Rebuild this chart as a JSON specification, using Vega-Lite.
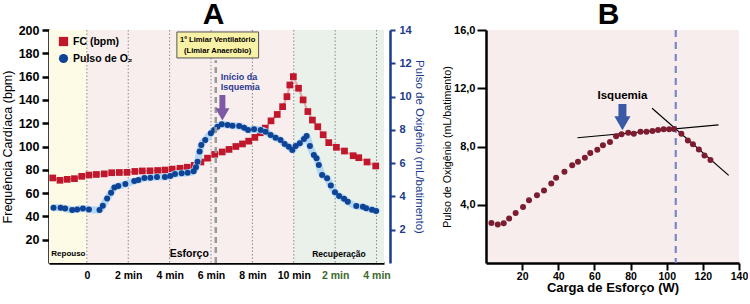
{
  "$schema": "https://vega.github.io/schema/vega-lite/v6.json",
  "padding": {"left": 1, "top": 0, "right": 0, "bottom": 0},
  "spacing": 16,
  "config": {"view": {"stroke": null}, "font": "Liberation Sans", "axis": {"grid": false, "labelOverlap": false}},
  "datasets": {
    "fc": [
      {"t": -1.65, "fc": 73}, {"t": -1.3, "fc": 71}, {"t": -0.95, "fc": 71.8}, {"t": -0.6, "fc": 72.4},
      {"t": -0.25, "fc": 74.4}, {"t": 0.1, "fc": 75.5}, {"t": 0.46, "fc": 76}, {"t": 0.84, "fc": 76.5},
      {"t": 1.2, "fc": 77.5}, {"t": 1.57, "fc": 77.7}, {"t": 1.94, "fc": 77.8}, {"t": 2.32, "fc": 78.6},
      {"t": 2.68, "fc": 79}, {"t": 3.05, "fc": 79.1}, {"t": 3.42, "fc": 79.4}, {"t": 3.77, "fc": 79.8},
      {"t": 4.12, "fc": 80.6}, {"t": 4.5, "fc": 81.3}, {"t": 4.85, "fc": 82.2}, {"t": 5.19, "fc": 83.8},
      {"t": 5.51, "fc": 86.7}, {"t": 5.83, "fc": 90}, {"t": 6.18, "fc": 93.2}, {"t": 6.54, "fc": 95.3},
      {"t": 6.87, "fc": 97.5}, {"t": 7.2, "fc": 100}, {"t": 7.52, "fc": 102.2}, {"t": 7.82, "fc": 104.6},
      {"t": 8.12, "fc": 107.8}, {"t": 8.38, "fc": 111.8}, {"t": 8.62, "fc": 115.8}, {"t": 8.9, "fc": 122},
      {"t": 9.2, "fc": 127.5}, {"t": 9.46, "fc": 134.2}, {"t": 9.67, "fc": 142.8}, {"t": 9.81, "fc": 152.8},
      {"t": 9.98, "fc": 160}, {"t": 10.23, "fc": 150}, {"t": 10.45, "fc": 140}, {"t": 10.68, "fc": 130},
      {"t": 10.9, "fc": 122.7}, {"t": 11.16, "fc": 117}, {"t": 11.42, "fc": 110.1}, {"t": 11.69, "fc": 103.3},
      {"t": 12.06, "fc": 99.3}, {"t": 12.45, "fc": 96.1}, {"t": 12.87, "fc": 92.1}, {"t": 13.14, "fc": 90.4},
      {"t": 13.54, "fc": 86.7}, {"t": 13.96, "fc": 83.3}
    ],
    "o2": [
      {"t": -1.61, "o2": 3.32}, {"t": -1.27, "o2": 3.32}, {"t": -1.05, "o2": 3.28}, {"t": -0.71, "o2": 3.18},
      {"t": -0.47, "o2": 3.22}, {"t": -0.19, "o2": 3.28}, {"t": 0.1, "o2": 3.22}, {"t": 0.61, "o2": 3.18},
      {"t": 0.77, "o2": 3.44}, {"t": 0.98, "o2": 3.88}, {"t": 1.17, "o2": 4.22}, {"t": 1.33, "o2": 4.54},
      {"t": 1.52, "o2": 4.62}, {"t": 1.86, "o2": 4.74}, {"t": 2.29, "o2": 4.92}, {"t": 2.49, "o2": 4.98},
      {"t": 2.78, "o2": 5.1}, {"t": 3.07, "o2": 5.12}, {"t": 3.39, "o2": 5.17}, {"t": 3.77, "o2": 5.17},
      {"t": 4.03, "o2": 5.23}, {"t": 4.26, "o2": 5.35}, {"t": 4.58, "o2": 5.39}, {"t": 4.87, "o2": 5.42},
      {"t": 5.16, "o2": 5.51}, {"t": 5.27, "o2": 5.75}, {"t": 5.35, "o2": 6.08}, {"t": 5.45, "o2": 6.7},
      {"t": 5.53, "o2": 7.09}, {"t": 5.72, "o2": 7.39}, {"t": 5.99, "o2": 7.79}, {"t": 6.15, "o2": 7.99},
      {"t": 6.31, "o2": 8.19}, {"t": 6.52, "o2": 8.33}, {"t": 6.8, "o2": 8.29}, {"t": 7.04, "o2": 8.25},
      {"t": 7.36, "o2": 8.23}, {"t": 7.6, "o2": 8.13}, {"t": 7.79, "o2": 7.99}, {"t": 8.08, "o2": 8.03},
      {"t": 8.4, "o2": 7.99}, {"t": 8.64, "o2": 7.89}, {"t": 8.88, "o2": 7.69}, {"t": 9.12, "o2": 7.53},
      {"t": 9.36, "o2": 7.39}, {"t": 9.56, "o2": 7.15}, {"t": 9.76, "o2": 6.99}, {"t": 9.93, "o2": 6.79},
      {"t": 10.09, "o2": 7.03}, {"t": 10.29, "o2": 7.19}, {"t": 10.49, "o2": 7.45}, {"t": 10.62, "o2": 7.63},
      {"t": 10.78, "o2": 7.03}, {"t": 10.97, "o2": 6.49}, {"t": 11.1, "o2": 6.29}, {"t": 11.21, "o2": 5.89},
      {"t": 11.37, "o2": 5.29}, {"t": 11.61, "o2": 5.09}, {"t": 11.79, "o2": 4.66}, {"t": 11.99, "o2": 4.25},
      {"t": 12.19, "o2": 4.02}, {"t": 12.43, "o2": 3.86}, {"t": 12.61, "o2": 3.68}, {"t": 13.02, "o2": 3.42},
      {"t": 13.34, "o2": 3.38}, {"t": 13.5, "o2": 3.29}, {"t": 13.78, "o2": 3.2}, {"t": 13.98, "o2": 3.13}
    ],
    "fases": [
      {"fase": "Repouso", "ini": -1.83, "fim": 0},
      {"fase": "Esforço", "ini": 0, "fim": 10},
      {"fase": "Recuperação", "ini": 10, "fim": 14.36}
    ],
    "grade": [{"t": 0}, {"t": 2}, {"t": 4}, {"t": 6}, {"t": 8}, {"t": 10}, {"t": 12}, {"t": 14}],
    "esforco": [
      {"w": 3.0, "pulso": 2.75}, {"w": 6.5, "pulso": 2.65}, {"w": 9.8, "pulso": 2.73}, {"w": 12.8, "pulso": 3.05},
      {"w": 16.4, "pulso": 3.44}, {"w": 20.5, "pulso": 3.85}, {"w": 23.8, "pulso": 4.31}, {"w": 28.2, "pulso": 4.66},
      {"w": 32.1, "pulso": 4.98}, {"w": 36.1, "pulso": 5.46}, {"w": 38.8, "pulso": 5.85}, {"w": 43.4, "pulso": 6.26},
      {"w": 47.7, "pulso": 6.72}, {"w": 50.9, "pulso": 6.95}, {"w": 54.7, "pulso": 7.23}, {"w": 57.7, "pulso": 7.55},
      {"w": 61.6, "pulso": 7.78}, {"w": 64.7, "pulso": 8.08}, {"w": 68.6, "pulso": 8.31}, {"w": 72.0, "pulso": 8.7},
      {"w": 75.0, "pulso": 8.84}, {"w": 78.7, "pulso": 8.95}, {"w": 81.8, "pulso": 8.88}, {"w": 85.5, "pulso": 9.02},
      {"w": 88.8, "pulso": 9.02}, {"w": 92.1, "pulso": 9.06}, {"w": 95.2, "pulso": 9.13}, {"w": 98.3, "pulso": 9.18},
      {"w": 101.3, "pulso": 9.18}, {"w": 104.0, "pulso": 9.2}, {"w": 108.1, "pulso": 8.88}, {"w": 111.7, "pulso": 8.42},
      {"w": 114.5, "pulso": 8.15}, {"w": 117.8, "pulso": 7.8}, {"w": 120.9, "pulso": 7.39}, {"w": 124.2, "pulso": 7.07}
    ],
    "tangentes": [
      {"linha": "platô", "w": 50.6, "pulso": 8.6}, {"linha": "platô", "w": 128.7, "pulso": 9.48},
      {"linha": "queda", "w": 91.9, "pulso": 10.63}, {"linha": "queda", "w": 134.3, "pulso": 6.02}
    ]
  },
  "hconcat": [
    {
      "width": 335,
      "height": 233,
      "title": {"text": "A", "fontSize": 30, "font": "Liberation Sans", "fontWeight": "bold", "frame": "group", "anchor": "middle", "offset": -6, "dx": -3, "color": "black"},
      "resolve": {"scale": {"y": "independent"}},
      "layer": [
        {
          "layer": [
            {
              "data": {"name": "fases"},
              "mark": {"type": "rect"},
              "encoding": {
                "x": {"field": "ini", "type": "quantitative", "title": null,
                  "scale": {"domain": [-1.83, 14.36], "nice": false, "zero": false},
                  "axis": {"values": [0, 2, 4, 6, 8, 10, 12, 14], "tickCount": 20, "ticks": false, "domainColor": "black", "domainWidth": 2.5,
                    "labelExpr": "datum.value == 0 ? '0' : (datum.value <= 10 ? datum.value + ' min' : (datum.value - 10) + ' min')",
                    "labelFont": "Liberation Sans", "labelFontWeight": "bold", "labelFontSize": 10.5,
                    "labelColor": {"condition": {"test": "datum.value > 10", "value": "#3b6a2c"}, "value": "black"},
                    "labelPadding": 7, "labelFlush": false, "labelOverlap": false}},
                "x2": {"field": "fim"},
                "fill": {"field": "fase", "type": "nominal", "legend": null,
                  "scale": {"domain": ["Repouso", "Esforço", "Recuperação"], "range": ["#fdfbe6", "#f8eeee", "#e9f1ea"]}}
              }
            },
            {
              "data": {"name": "grade"},
              "mark": {"type": "rule", "color": "#8a8a8a", "strokeDash": [1.5, 2], "strokeWidth": 1},
              "encoding": {"x": {"field": "t", "type": "quantitative", "title": null}}
            },
            {
              "data": {"name": "fc"},
              "mark": {"type": "line", "color": "#e9a2a8", "strokeWidth": 2},
              "encoding": {
                "x": {"field": "t", "type": "quantitative", "title": null},
                "y": {"field": "fc", "type": "quantitative", "title": "Frequência Cardíaca (bpm)"}
              }
            },
            {
              "data": {"name": "fc"},
              "mark": {"type": "point", "filled": true, "opacity": 1, "size": 45},
              "encoding": {
                "x": {"field": "t", "type": "quantitative", "title": null},
                "y": {"field": "fc", "type": "quantitative", "title": "Frequência Cardíaca (bpm)",
                  "scale": {"domain": [0, 200], "nice": false},
                  "axis": {"values": [20, 40, 60, 80, 100, 120, 140, 160, 180, 200], "tickCount": 20, "format": "d", "domainColor": "black", "domainWidth": 2.5,
                    "tickColor": "black", "tickWidth": 2.5, "tickSize": 7, "labelPadding": 3, "labelOverlap": false,
                    "labelFont": "Liberation Sans", "labelFontWeight": "bold", "labelFontSize": 12.5, "labelColor": "black",
                    "titleFont": "Liberation Sans", "titleFontSize": 12.5, "titleFontWeight": "normal",
                    "titleColor": "black", "titlePadding": 3.5}},
                "color": {"datum": "FC (bpm)", "type": "nominal",
                  "scale": {"domain": ["FC (bpm)", "Pulso de O₂"], "range": ["#c0172c", "#0f4396"]},
                  "legend": {"orient": "none", "legendX": 9, "legendY": 6, "title": null,
                    "labelFont": "Liberation Sans", "labelFontWeight": "bold", "labelFontSize": 10.5,
                    "labelColor": "black", "symbolSize": 85, "rowPadding": 6, "symbolOpacity": 1}},
                "shape": {"datum": "FC (bpm)", "type": "nominal",
                  "scale": {"domain": ["FC (bpm)", "Pulso de O₂"], "range": ["square", "circle"]},
                  "legend": {"orient": "none", "legendX": 9, "legendY": 6, "title": null,
                    "labelFont": "Liberation Sans", "labelFontWeight": "bold", "labelFontSize": 10.5,
                    "labelColor": "black", "symbolSize": 85, "rowPadding": 6, "symbolOpacity": 1}}
              }
            }
          ]
        },
        {
          "layer": [
            {
              "data": {"name": "o2"},
              "mark": {"type": "line", "color": "#b3d7f2", "strokeWidth": 7, "interpolate": "monotone", "strokeCap": "round"},
              "encoding": {
                "x": {"field": "t", "type": "quantitative", "title": null},
                "y": {"field": "o2", "type": "quantitative", "title": "Pulso de Oxigênio (mL/batimento)"}
              }
            },
            {
              "data": {"name": "o2"},
              "mark": {"type": "point", "filled": true, "opacity": 1, "size": 36},
              "encoding": {
                "x": {"field": "t", "type": "quantitative", "title": null},
                "y": {"field": "o2", "type": "quantitative", "title": "Pulso de Oxigênio (mL/batimento)",
                  "scale": {"domain": [0, 14], "nice": false},
                  "axis": {"orient": "right", "offset": 6, "values": [2, 4, 6, 8, 10, 12, 14], "tickCount": 20, "format": "d", "domainColor": "#1b3b8b", "domainWidth": 2.5,
                    "tickColor": "#1b3b8b", "tickWidth": 2, "tickSize": 5, "labelPadding": 4, "labelOverlap": false,
                    "labelFont": "Liberation Sans", "labelFontWeight": "bold", "labelFontSize": 11, "labelColor": "#1b3b8b",
                    "titleFont": "Liberation Sans", "titleFontSize": 11.5, "titleFontWeight": "normal",
                    "titleColor": "#1b3b8b", "titlePadding": 2}},
                "color": {"datum": "Pulso de O₂", "type": "nominal"},
                "shape": {"datum": "Pulso de O₂", "type": "nominal"}
              }
            }
          ]
        },
        {
          "layer": [
            {
              "data": {"values": [{"t": 6.23, "fc": 0, "fc2": 174}]},
              "mark": {"type": "rule", "color": "#9a9a9a", "strokeDash": [6, 4], "strokeWidth": 2.5},
              "encoding": {
                "x": {"field": "t", "type": "quantitative", "title": null},
                "y": {"field": "fc", "type": "quantitative", "axis": null, "scale": {"domain": [0, 200], "nice": false}},
                "y2": {"field": "fc2"}
              }
            },
            {
              "data": {"values": [{"t0": 4.35, "t1": 8.3, "fc": 176, "fc2": 198.3}]},
              "mark": {"type": "rect", "fill": "#f9f2a6", "stroke": "#555555", "strokeWidth": 1},
              "encoding": {
                "x": {"field": "t0", "type": "quantitative", "title": null},
                "x2": {"field": "t1"},
                "y": {"field": "fc", "type": "quantitative", "axis": null},
                "y2": {"field": "fc2"}
              }
            },
            {
              "data": {"values": [{"texto": "1º Limiar Ventilatório", "t": 6.32, "fc": 191.4}, {"texto": "(Limiar Anaeróbio)", "t": 6.32, "fc": 182.2}]},
              "mark": {"type": "text", "font": "Liberation Sans", "fontWeight": "bold", "fontSize": 7.6, "color": "black", "baseline": "middle"},
              "encoding": {
                "x": {"field": "t", "type": "quantitative", "title": null},
                "y": {"field": "fc", "type": "quantitative", "axis": null},
                "text": {"field": "texto"}
              }
            },
            {
              "data": {"values": [{"texto": "Início da", "t": 6.47, "fc": 159.5}, {"texto": "Isquemia", "t": 6.47, "fc": 150.9}]},
              "mark": {"type": "text", "font": "Liberation Sans", "fontWeight": "bold", "fontSize": 9, "color": "#2b3990", "align": "left", "baseline": "middle"},
              "encoding": {
                "x": {"field": "t", "type": "quantitative", "title": null},
                "y": {"field": "fc", "type": "quantitative", "axis": null},
                "text": {"field": "texto"}
              }
            },
            {
              "data": {"values": [{"t": 6.55, "fc": 144.2, "fc2": 130.5}]},
              "mark": {"type": "rule", "color": "#7e5aa6", "strokeWidth": 6},
              "encoding": {
                "x": {"field": "t", "type": "quantitative", "title": null},
                "y": {"field": "fc", "type": "quantitative", "axis": null},
                "y2": {"field": "fc2"}
              }
            },
            {
              "data": {"values": [{"t": 6.55, "fc": 127.5}]},
              "mark": {"type": "point", "shape": "triangle-down", "filled": true, "fill": "#7e5aa6", "stroke": null, "opacity": 1, "size": 200},
              "encoding": {
                "x": {"field": "t", "type": "quantitative", "title": null},
                "y": {"field": "fc", "type": "quantitative", "axis": null}
              }
            },
            {
              "data": {"values": [{"texto": "Repouso", "t": -1.72, "fc": 7.7}]},
              "mark": {"type": "text", "font": "Liberation Sans", "fontWeight": "bold", "fontSize": 8, "color": "black", "align": "left", "baseline": "middle"},
              "encoding": {
                "x": {"field": "t", "type": "quantitative", "title": null},
                "y": {"field": "fc", "type": "quantitative", "axis": null},
                "text": {"field": "texto"}
              }
            },
            {
              "data": {"values": [{"texto": "Esforço", "t": 4.95, "fc": 7.7}]},
              "mark": {"type": "text", "font": "Liberation Sans", "fontWeight": "bold", "fontSize": 10.5, "color": "black", "align": "center", "baseline": "middle"},
              "encoding": {
                "x": {"field": "t", "type": "quantitative", "title": null},
                "y": {"field": "fc", "type": "quantitative", "axis": null},
                "text": {"field": "texto"}
              }
            },
            {
              "data": {"values": [{"texto": "Recuperação", "t": 12.18, "fc": 7.7}]},
              "mark": {"type": "text", "font": "Liberation Sans", "fontWeight": "bold", "fontSize": 8.5, "color": "black", "align": "center", "baseline": "middle"},
              "encoding": {
                "x": {"field": "t", "type": "quantitative", "title": null},
                "y": {"field": "fc", "type": "quantitative", "axis": null},
                "text": {"field": "texto"}
              }
            }
          ]
        }
      ]
    },
    {
      "width": 253,
      "height": 233,
      "title": {"text": "B", "fontSize": 30, "font": "Liberation Sans", "fontWeight": "bold", "frame": "group", "anchor": "middle", "offset": -6, "dx": -4, "color": "black"},
      "view": {"fill": "#f8eded", "stroke": null},
      "layer": [
        {
          "data": {"values": [{"w": 105}]},
          "mark": {"type": "rule", "color": "#7c86c6", "strokeDash": [7, 5], "strokeWidth": 2.2},
          "encoding": {"x": {"field": "w", "type": "quantitative", "title": "Carga de Esforço (W)"}}
        },
        {
          "data": {"name": "tangentes"},
          "mark": {"type": "line", "color": "black", "strokeWidth": 1.2},
          "encoding": {
            "x": {"field": "w", "type": "quantitative", "title": "Carga de Esforço (W)"},
            "y": {"field": "pulso", "type": "quantitative", "title": "Pulso de Oxigênio (mL/batimento)"},
            "detail": {"field": "linha"}
          }
        },
        {
          "data": {"name": "esforco"},
          "mark": {"type": "point", "filled": true, "opacity": 1, "size": 36, "color": "#7b1c30"},
          "encoding": {
            "x": {"field": "w", "type": "quantitative", "title": "Carga de Esforço (W)",
              "scale": {"domain": [0, 140], "nice": false},
              "axis": {"values": [20, 40, 60, 80, 100, 120, 140], "tickCount": 20, "format": "d", "domainColor": "black", "domainWidth": 2.5,
                "tickColor": "black", "tickWidth": 2, "tickSize": 7, "labelPadding": 1, "labelOverlap": false,
                "labelFont": "Liberation Sans", "labelFontWeight": "bold", "labelFontSize": 10.5, "labelColor": "black", "labelFlush": false,
                "titleFont": "Liberation Sans", "titleFontWeight": "bold", "titleFontSize": 13, "titleColor": "black", "titlePadding": 0}},
            "y": {"field": "pulso", "type": "quantitative", "title": "Pulso de Oxigênio (mL/batimento)",
              "scale": {"domain": [0, 16], "nice": false},
              "axis": {"values": [4, 8, 12, 16], "tickCount": 20, "domainColor": "black", "domainWidth": 2.5, "labelOverlap": false,
                "labelExpr": "replace(format(datum.value, '.1f'), '.', ',')",
                "tickColor": "black", "tickWidth": 2, "tickSize": 9, "labelPadding": 2,
                "labelFont": "Liberation Sans", "labelFontWeight": "bold", "labelFontSize": 11, "labelColor": "black",
                "titleFont": "Liberation Sans", "titleFontWeight": "normal", "titleFontSize": 10.7, "titleColor": "black", "titlePadding": 1}}
          }
        },
        {
          "data": {"values": [{"texto": "Isquemia", "w": 75.5, "pulso": 11.47}]},
          "mark": {"type": "text", "font": "Liberation Sans", "fontWeight": "bold", "fontSize": 11.5, "color": "black", "baseline": "middle"},
          "encoding": {
            "x": {"field": "w", "type": "quantitative", "title": "Carga de Esforço (W)"},
            "y": {"field": "pulso", "type": "quantitative", "title": "Pulso de Oxigênio (mL/batimento)"},
            "text": {"field": "texto"}
          }
        },
        {
          "data": {"values": [{"w": 75.5, "pulso": 10.92, "pulso2": 9.9}]},
          "mark": {"type": "rule", "color": "#3b5aa6", "strokeWidth": 8},
          "encoding": {
            "x": {"field": "w", "type": "quantitative", "title": "Carga de Esforço (W)"},
            "y": {"field": "pulso", "type": "quantitative", "title": "Pulso de Oxigênio (mL/batimento)"},
            "y2": {"field": "pulso2"}
          }
        },
        {
          "data": {"values": [{"w": 75.5, "pulso": 9.6}]},
          "mark": {"type": "point", "shape": "triangle-down", "filled": true, "fill": "#3b5aa6", "stroke": null, "opacity": 1, "size": 260},
          "encoding": {
            "x": {"field": "w", "type": "quantitative", "title": "Carga de Esforço (W)"},
            "y": {"field": "pulso", "type": "quantitative", "title": "Pulso de Oxigênio (mL/batimento)"}
          }
        }
      ]
    }
  ]
}
